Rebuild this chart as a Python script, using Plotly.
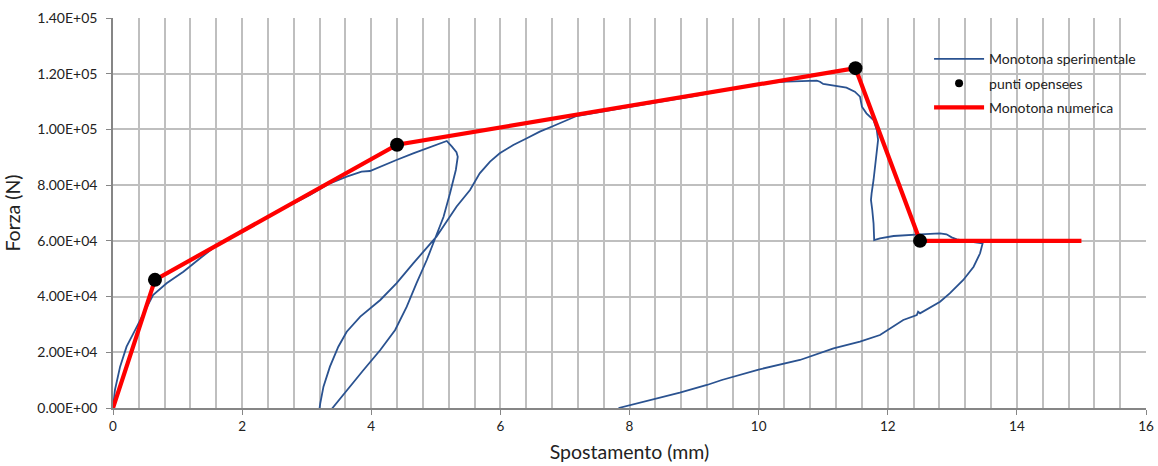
import plotly.graph_objects as go

# Experimental monotonic curve: displacement (mm) and force (N)
exp_spost = [
    0.0, 0.03, 0.11, 0.21, 0.37, 0.52, 0.62, 0.83, 1.09, 1.35, 1.61,
    2.0, 2.5, 3.05, 3.36, 3.62, 3.85, 3.98, 4.08, 4.24, 4.39, 4.65, 4.91, 5.17,
    5.25, 5.32, 5.34, 5.31, 5.22, 5.12, 5.01, 4.86, 4.70, 4.55, 4.37, 4.14,
    3.88, 3.62, 3.40, 3.30, 3.20,
    3.21, 3.26, 3.36, 3.49, 3.62, 3.83, 4.14, 4.39, 4.65, 5.01, 5.32, 5.53,
    5.68, 5.84, 5.99, 6.20, 6.41, 6.61, 6.82, 7.03, 7.18, 8.0, 9.0, 10.02,
    10.43, 10.90, 10.95, 11.00, 11.21, 11.36, 11.49, 11.57, 11.60, 11.67,
    11.78, 11.83, 11.85, 11.83, 11.80, 11.78, 11.75, 11.74, 11.76, 11.78,
    11.79, 11.88, 12.09, 12.29, 12.45, 12.50, 12.81, 12.91, 12.99, 13.07,
    13.27, 13.47, 13.43, 13.33, 13.17, 12.96, 12.81, 12.60, 12.50, 12.47,
    12.45, 12.24, 12.04, 11.88, 11.57, 11.16, 10.64, 10.0, 9.43, 9.20, 8.78,
    8.42, 7.83,
]
exp_forza = [
    0, 6460, 14840, 22010, 29190, 36370, 40570, 44760, 48930, 53740, 58510,
    63200, 69900, 76460, 80660, 83030, 84830, 85080, 86050, 87840, 89030,
    91430, 93590, 95850,
    93800, 91790, 90210, 85440, 77080, 68670, 62100, 53130, 44760, 36370,
    28000, 20820, 13640, 6460, 0, -3000, 0,
    1690, 7650, 14840, 22010, 27390, 32780, 38770, 44760, 51940, 61490,
    72260, 78260, 84250, 88420, 91430, 94410, 96820, 99190, 101230, 103390,
    104820, 108100, 112000, 116550,
    117130, 117490, 117130, 116310, 115590, 114980, 113540, 111750, 108160,
    105790, 103390, 99800, 96210, 91430, 86620, 81850, 77070, 74670, 71080,
    66300, 60310, 60920, 61740, 62100, 62460, 62340, 62700, 62340, 61260,
    60560, 59700, 59120, 55530, 50720, 45950, 41170, 38160, 35430, 33990,
    34570, 33390, 31590, 28610, 26210, 23800, 21430, 17230, 13800, 10050,
    8260, 5500, 3470, 0,
]

# Numerical (OpenSees) monotonic curve
num_spost = [0.0, 0.65, 4.4, 11.5, 12.5, 15.0]
num_forza = [0, 46000, 94500, 122000, 60000, 60000]

# OpenSees points
pts_spost = [0.65, 4.4, 11.5, 12.5]
pts_forza = [46000, 94500, 122000, 60000]

# Axis ticks
x_ticks = [0, 2, 4, 6, 8, 10, 12, 14, 16]
y_ticks = [0, 20000, 40000, 60000, 80000, 100000, 120000, 140000]
y_tick_text = ["0.00E+00", "2.00E+04", "4.00E+04", "6.00E+04",
               "8.00E+04", "1.00E+05", "1.20E+05", "1.40E+05"]

FONT = "Lato, 'Open Sans', sans-serif"
GRID = "#BFBFBF"
AXIS = "#868686"

fig = go.Figure()

fig.add_trace(go.Scatter(
    x=exp_spost, y=exp_forza, mode="lines",
    name="Monotona sperimentale", legendgroup="a",
    line=dict(color="#2A5290", width=1.8),
))
# legend entry for the points (smaller symbol than the plotted dots)
fig.add_trace(go.Scatter(
    x=[None], y=[None], mode="markers",
    name="punti opensees", legendgroup="b",
    marker=dict(color="black", size=8),
))
fig.add_trace(go.Scatter(
    x=num_spost, y=num_forza, mode="lines",
    name="Monotona numerica", legendgroup="c",
    line=dict(color="#FF0000", width=4.2),
))
fig.add_trace(go.Scatter(
    x=pts_spost, y=pts_forza, mode="markers", showlegend=False,
    name="punti opensees",
    marker=dict(color="black", size=14),
))

fig.update_layout(
    width=1158, height=466,
    margin=dict(l=113, r=12, t=18, b=58),
    paper_bgcolor="white", plot_bgcolor="white",
    font=dict(family=FONT, size=13, color="#222222"),
    showlegend=True,
    legend=dict(
        x=0.79, y=0.935, xanchor="left", yanchor="top",
        bgcolor="rgba(0,0,0,0)", borderwidth=0,
        font=dict(family=FONT, size=14, color="#222222"),
        itemwidth=50, traceorder="grouped", tracegroupgap=3,
    ),
    xaxis=dict(
        range=[0, 16], tickvals=x_ticks, ticktext=[str(v) for v in x_ticks],
        automargin=False,
        showgrid=True, gridcolor=GRID, gridwidth=1.5,
        minor=dict(dtick=0.4, tick0=0, showgrid=True, gridcolor=GRID, gridwidth=1.5),
        showline=True, linecolor=AXIS, linewidth=1.5,
        ticks="outside", ticklen=5, tickcolor=AXIS,
        zeroline=False,
        tickfont=dict(family=FONT, size=13.5),
        title=dict(text="Spostamento (mm)", font=dict(family=FONT, size=19.5), standoff=12),
    ),
    yaxis=dict(
        range=[0, 140000], tickvals=y_ticks, ticktext=y_tick_text,
        automargin=False,
        showgrid=True, gridcolor=GRID, gridwidth=1.5,
        showline=True, linecolor=AXIS, linewidth=1.5,
        ticks="outside", ticklen=5, tickcolor=AXIS,
        ticklabelstandoff=6,
        zeroline=False,
        tickfont=dict(family=FONT, size=14),
        title=dict(text="Forza (N)", font=dict(family=FONT, size=19.5), standoff=12),
    ),
)

fig.write_html("out.html")
